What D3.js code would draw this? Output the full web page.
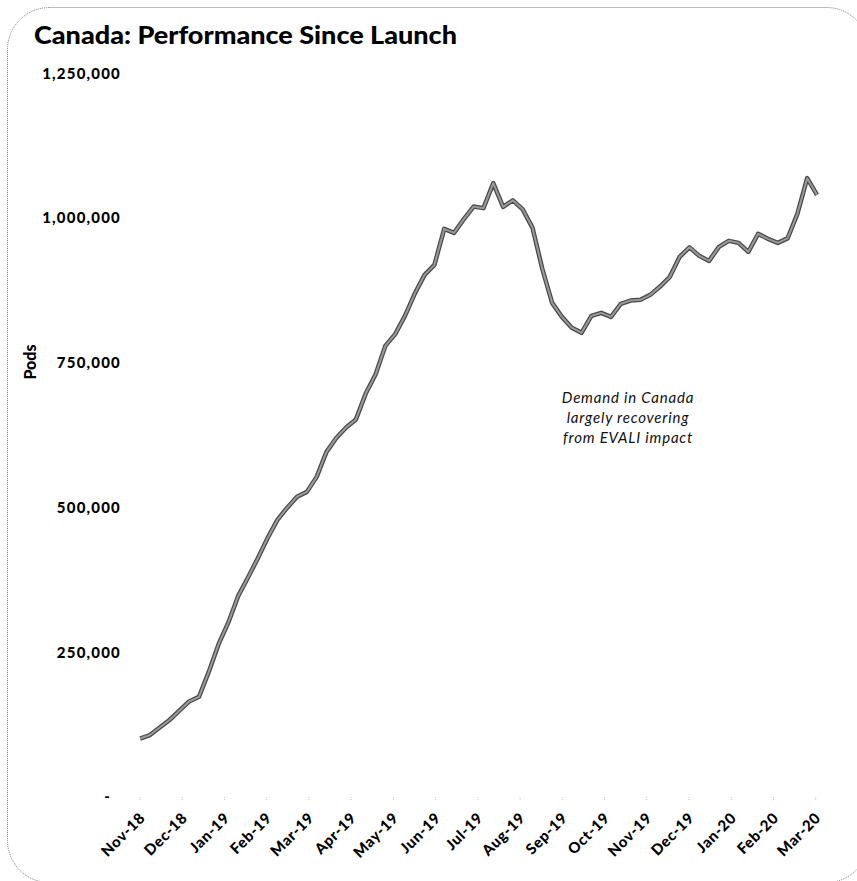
<!DOCTYPE html>
<html>
<head>
<meta charset="utf-8">
<script src="https://cdn.jsdelivr.net/npm/d3@7"></script>
<style>
  html, body { margin: 0; padding: 0; background: #fff; }
  svg { display: block; }
</style>
</head>
<body>
<svg id="chart" width="857" height="881"></svg>
<script>
// ---- data (weekly pods, Nov-2018 .. Mar-2020) ----
const weeklyPods = [
  101000, 107000, 120000, 133000, 149000, 165000, 173000, 216000, 264000, 301500,
  347300, 379200, 412400, 447500, 478600, 499800, 518700, 527000, 552900, 596100,
  620200, 638200, 652200, 696800, 729600, 779200, 799400, 831000, 869400, 901900,
  919100, 981300, 974400, 998100, 1019900, 1017100, 1060300, 1019300, 1030600, 1015000,
  983100, 912200, 853500, 829300, 810600, 801700, 831000, 836200, 829300, 851800,
  857500, 858700, 867300, 881600, 898400, 933000, 949400, 934700, 926000, 950200,
  960600, 957100, 941600, 972700, 964100, 957100, 964900, 1007300, 1068900, 1040100
];
const monthLabels = [
  "Nov-18", "Dec-18", "Jan-19", "Feb-19", "Mar-19", "Apr-19", "May-19", "Jun-19",
  "Jul-19", "Aug-19", "Sep-19", "Oct-19", "Nov-19", "Dec-19", "Jan-20", "Feb-20", "Mar-20"
];
const yTickValues = [0, 250000, 500000, 750000, 1000000, 1250000];
const titleText = "Canada: Performance Since Launch";
const yAxisTitle = "Pods";
const noteLines = ["Demand in Canada", "largely recovering", "from EVALI impact"];

// ---- drawing ----
const svg = d3.select("#chart");
const FONT = "Lato, 'Open Sans', sans-serif";

// rounded dotted frame
svg.append("rect")
  .attr("x", 7.5).attr("y", 7.5)
  .attr("width", 861).attr("height", 875)
  .attr("rx", 42).attr("ry", 42)
  .attr("fill", "none")
  .attr("stroke", "#777")
  .attr("stroke-width", 1)
  .attr("stroke-dasharray", "1,1");

const x = d3.scaleLinear().domain([0, weeklyPods.length - 1]).range([140.1, 817]);
const xm = d3.scalePoint().domain(monthLabels).range([139.5, 815.2]);
const y = d3.scaleLinear().domain([0, 1250000]).range([797, 73.3]);

// title
svg.append("text")
  .attr("x", 34).attr("y", 44)
  .attr("font-family", FONT)
  .attr("font-weight", 900)
  .attr("font-size", 24)
  .attr("textLength", 423)
  .attr("lengthAdjust", "spacingAndGlyphs")
  .attr("fill", "#000")
  .text(titleText);

// y axis
const yAxis = d3.axisLeft(y)
  .tickValues(yTickValues)
  .tickSize(0)
  .tickPadding(0)
  .tickFormat(d => d === 0 ? "-" : d3.format(",")(d));
const gy = svg.append("g").attr("transform", "translate(121,0)").call(yAxis);
gy.select(".domain").remove();
gy.selectAll("text")
  .attr("font-family", FONT)
  .attr("font-weight", 900)
  .attr("font-size", 15)
  .attr("letter-spacing", 1.2)
  .attr("fill", "#000")
  .attr("x", d => d === 0 ? -10 : 0);

// y axis title
svg.append("text")
  .attr("transform", "translate(36,362) rotate(-90)")
  .attr("text-anchor", "middle")
  .attr("font-family", FONT)
  .attr("font-weight", 900)
  .attr("font-size", 16)
  .attr("fill", "#000")
  .text(yAxisTitle);

// x axis
const xAxis = d3.axisBottom(xm).tickSize(4).tickPadding(0);
const gx = svg.append("g").attr("transform", "translate(0,797)").call(xAxis);
gx.select(".domain").remove();
gx.selectAll(".tick line").attr("stroke", "#c8c8c8").attr("stroke-dasharray", "1,1");
gx.selectAll("text")
  .attr("y", 0).attr("x", 0).attr("dy", null)
  .attr("text-anchor", "end")
  .attr("transform", "translate(6,22) rotate(-45)")
  .attr("font-family", FONT)
  .attr("font-weight", 900)
  .attr("font-size", 15)
  .attr("letter-spacing", 0.6)
  .attr("fill", "#000");

// line
const line = d3.line().x((d, i) => x(i)).y(d => y(d)).curve(d3.curveLinear);
svg.append("path")
  .datum(weeklyPods)
  .attr("d", line)
  .attr("fill", "none")
  .attr("stroke", "#4a4a4a")
  .attr("stroke-width", 4.5)
  .attr("stroke-linejoin", "round");
svg.append("path")
  .datum(weeklyPods)
  .attr("d", line)
  .attr("fill", "none")
  .attr("stroke", "#9a9a9a")
  .attr("stroke-width", 2)
  .attr("stroke-linejoin", "round");

// annotation
const note = svg.append("text")
  .attr("text-anchor", "middle")
  .attr("font-family", FONT)
  .attr("font-style", "italic")
  .attr("font-size", 15)
  .attr("letter-spacing", 0.8)
  .attr("fill", "#111");
note.selectAll("tspan").data(noteLines).join("tspan")
  .attr("x", 628)
  .attr("y", (d, i) => 403 + i * 20)
  .text(d => d);
</script>
</body>
</html>
